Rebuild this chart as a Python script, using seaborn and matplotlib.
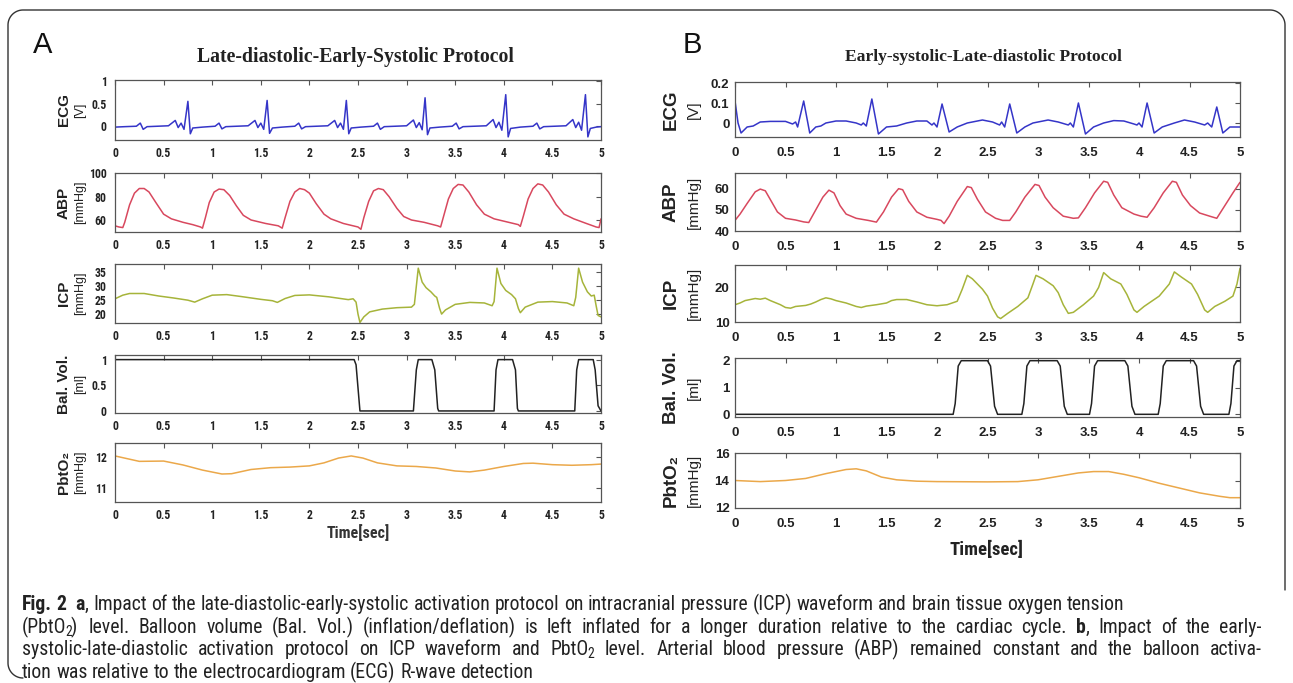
import numpy as np
import pandas as pd
import matplotlib
matplotlib.use("Agg")
import matplotlib.pyplot as plt
import seaborn as sns
from matplotlib import font_manager
from matplotlib.lines import Line2D

# ----------------------------------------------------------------- data
TIME_TICKS = [0, 0.5, 1, 1.5, 2, 2.5, 3, 3.5, 4, 4.5, 5]
TIME_TICK_LABELS = ["0", "0.5", "1", "1.5", "2", "2.5", "3", "3.5", "4", "4.5", "5"]

# Panel A : Late-diastolic-Early-Systolic Protocol
ecg_a_t = [0.00, 0.10, 0.22, 0.26, 0.29, 0.33, 0.55, 0.62, 0.65, 0.68, 0.71, 0.75, 0.775, 0.80, 0.90,
           1.03, 1.07, 1.10, 1.14, 1.37, 1.44, 1.47, 1.50, 1.53, 1.565, 1.59, 1.62, 1.72,
           1.85, 1.89, 1.92, 1.96, 2.19, 2.26, 2.29, 2.32, 2.35, 2.38, 2.405, 2.43, 2.53,
           2.66, 2.70, 2.73, 2.77, 3.00, 3.07, 3.10, 3.13, 3.16, 3.19, 3.215, 3.24, 3.34,
           3.47, 3.51, 3.54, 3.58, 3.82, 3.89, 3.92, 3.95, 3.98, 4.02, 4.045, 4.07, 4.17,
           4.30, 4.34, 4.37, 4.41, 4.64, 4.71, 4.74, 4.77, 4.80, 4.84, 4.865, 4.89, 4.95, 5.00]
ecg_a_v = [-0.03, -0.02, -0.01, 0.06, -0.08, -0.02, 0.00, 0.12, -0.04, 0.06, -0.08, 0.55, -0.18, -0.05, -0.03,
           -0.01, 0.06, -0.07, -0.02, 0.00, 0.12, -0.04, 0.06, -0.08, 0.57, -0.17, -0.05, -0.03,
           -0.01, 0.06, -0.07, -0.02, 0.00, 0.12, -0.04, 0.06, -0.08, 0.57, -0.18, -0.05, -0.03,
           -0.01, 0.06, -0.08, -0.02, 0.00, 0.13, -0.04, 0.07, -0.09, 0.63, -0.20, -0.05, -0.03,
           -0.01, 0.06, -0.07, -0.02, 0.00, 0.14, -0.04, 0.08, -0.10, 0.70, -0.25, -0.06, -0.03,
           -0.01, 0.06, -0.07, -0.02, 0.00, 0.14, -0.04, 0.08, -0.10, 0.70, -0.25, -0.06, -0.03, -0.02]

abp_a_t = [0.00, 0.04, 0.08, 0.10, 0.15, 0.20, 0.25, 0.30, 0.35, 0.42, 0.50, 0.58, 0.70, 0.80, 0.88,
           0.90, 0.93, 0.97, 1.02, 1.07, 1.12, 1.18, 1.25, 1.32, 1.40, 1.55, 1.68,
           1.72, 1.75, 1.80, 1.85, 1.90, 1.95, 2.00, 2.07, 2.15, 2.22, 2.35, 2.50,
           2.53, 2.56, 2.61, 2.66, 2.71, 2.76, 2.82, 2.90, 2.97, 3.05, 3.18, 3.32,
           3.35, 3.38, 3.43, 3.48, 3.53, 3.58, 3.64, 3.72, 3.80, 3.90, 4.05, 4.15,
           4.17, 4.20, 4.25, 4.30, 4.35, 4.40, 4.46, 4.54, 4.62, 4.72, 4.85, 4.95, 4.98, 5.00]
abp_a_v = [55, 54, 53.5, 58, 73, 83, 87, 87, 84, 75, 65, 61, 58, 56, 54,
           53, 62, 75, 84, 86.5, 86, 81, 72, 64, 60, 57, 55,
           53, 62, 76, 84, 87, 86, 83, 74, 65, 61, 57, 54,
           52, 62, 76, 85, 87, 86, 80, 70, 63, 60, 58, 55,
           54, 63, 78, 87, 90.5, 90, 84, 73, 65, 61, 58, 56,
           54.5, 63, 78, 87, 91, 90, 84, 73, 65, 61, 57, 54, 53.5, 61]

icp_a_t = [0.00, 0.08, 0.15, 0.30, 0.45, 0.60, 0.75, 0.82, 0.90, 1.00, 1.15, 1.30, 1.50, 1.62, 1.67,
           1.75, 1.85, 2.00, 2.20, 2.40, 2.45, 2.48, 2.50, 2.52, 2.56, 2.62, 2.75, 2.90, 3.05,
           3.08, 3.12, 3.16, 3.20, 3.25, 3.29, 3.31, 3.34, 3.36, 3.40, 3.50, 3.65, 3.80, 3.88,
           3.90, 3.93, 3.97, 4.02, 4.08, 4.12, 4.15, 4.17, 4.22, 4.35, 4.50, 4.65, 4.72,
           4.74, 4.77, 4.81, 4.86, 4.90, 4.93, 4.95, 4.97, 5.00]
icp_a_v = [25.5, 26.8, 27.4, 27.4, 26.5, 25.8, 25.0, 24.3, 25.5, 26.8, 27.0, 26.3, 25.3, 24.8, 24.2,
           25.6, 26.7, 26.9, 26.2, 25.2, 25.5, 24.3, 20.0, 17.0, 19.0, 20.8, 21.8, 22.3, 22.5,
           23.5, 36.5, 31.5, 29.5, 28.0, 26.5, 26.0, 22.0, 20.0, 21.5, 23.5, 24.2, 24.0, 23.0,
           24.5, 36.5, 31.0, 28.5, 27.0, 25.5, 22.0, 20.5, 22.5, 24.3, 24.5, 24.0, 23.0,
           26.0, 36.5, 31.5, 28.0, 26.5, 26.8, 23.0, 19.5, 19.0]

bal_a_t = [0.00, 2.46, 2.48, 2.52, 3.07, 3.10, 3.12, 3.26, 3.29, 3.32, 3.33,
           3.90, 3.92, 3.94, 4.09, 4.12, 4.14, 4.15, 4.73, 4.75, 4.77, 4.92, 4.94, 4.97, 5.00]
bal_a_v = [1.0, 1.0, 0.9, 0.0, 0.0, 0.8, 1.0, 1.0, 0.8, 0.05, 0.0,
           0.0, 0.8, 1.0, 1.0, 0.8, 0.05, 0.0, 0.0, 0.8, 1.0, 1.0, 0.8, 0.1, 0.0]

pbt_a_t = [0.00, 0.25, 0.50, 0.70, 0.90, 1.10, 1.20, 1.40, 1.60, 1.80, 2.00, 2.15, 2.30, 2.43, 2.55,
           2.70, 2.90, 3.10, 3.30, 3.50, 3.65, 3.80, 4.00, 4.20, 4.30, 4.50, 4.70, 4.90, 5.00]
pbt_a_v = [12.05, 11.87, 11.88, 11.75, 11.58, 11.45, 11.46, 11.60, 11.66, 11.68, 11.72, 11.82, 11.98, 12.05, 11.98,
           11.82, 11.72, 11.70, 11.65, 11.55, 11.52, 11.58, 11.70, 11.80, 11.81, 11.76, 11.74, 11.76, 11.78]

# Panel B : Early-systolic-Late-diastolic Protocol
ecg_b_t = [0.00, 0.03, 0.06, 0.12, 0.18, 0.25, 0.35, 0.50, 0.57, 0.60, 0.62, 0.68, 0.74, 0.80, 0.85,
           0.90, 1.00, 1.10, 1.20, 1.25, 1.27, 1.30, 1.355, 1.42, 1.50, 1.60, 1.70, 1.80, 1.90,
           1.95, 1.97, 2.00, 2.05, 2.12, 2.20, 2.30, 2.45, 2.55, 2.62, 2.64, 2.67, 2.72, 2.79,
           2.87, 2.95, 3.10, 3.20, 3.30, 3.32, 3.35, 3.40, 3.47, 3.55, 3.65, 3.75, 3.85, 3.95,
           3.98, 4.00, 4.03, 4.08, 4.15, 4.23, 4.35, 4.45, 4.55, 4.65, 4.68, 4.72, 4.77, 4.83,
           4.90, 5.00]
ecg_b_v = [0.11, 0.00, -0.05, -0.02, -0.015, 0.005, 0.008, 0.008, -0.005, 0.005, -0.02, 0.11, -0.05, -0.02, -0.015,
           0.00, 0.01, 0.01, 0.00, -0.01, 0.00, -0.015, 0.12, -0.055, -0.02, -0.015, 0.00, 0.01, 0.01,
           -0.01, 0.00, -0.02, 0.095, -0.045, -0.02, 0.00, 0.015, 0.005, -0.01, 0.005, -0.02, 0.095, -0.05,
           -0.02, 0.00, 0.015, 0.005, -0.01, 0.00, -0.02, 0.10, -0.055, -0.02, 0.00, 0.012, 0.01, -0.005,
           -0.01, 0.00, -0.02, 0.10, -0.05, -0.02, 0.00, 0.015, 0.005, -0.01, 0.00, -0.02, 0.08, -0.05,
           -0.02, -0.02]

abp_b_t = [0.00, 0.05, 0.12, 0.20, 0.25, 0.30, 0.36, 0.42, 0.50, 0.60, 0.68, 0.73, 0.80, 0.87, 0.93,
           0.98, 1.04, 1.10, 1.20, 1.32, 1.40, 1.47, 1.55, 1.62, 1.66, 1.72, 1.80, 1.90, 2.00,
           2.04, 2.07, 2.12, 2.20, 2.30, 2.34, 2.40, 2.48, 2.58, 2.65, 2.72, 2.78, 2.87, 2.97,
           3.01, 3.07, 3.15, 3.25, 3.35, 3.40, 3.47, 3.56, 3.65, 3.69, 3.75, 3.83, 3.95, 4.02,
           4.08, 4.15, 4.24, 4.33, 4.37, 4.43, 4.51, 4.60, 4.70, 4.77, 4.85, 4.93, 5.00]
abp_b_v = [45, 48, 53, 58.5, 59.8, 59, 54, 49, 46, 45.2, 44.3, 44.0, 50, 56, 59.3,
           58, 52, 48, 46, 45, 44.2, 49, 56, 60, 59.5, 54, 49, 46.5, 45.5,
           45, 43.5, 47, 54, 61, 60.5, 55, 49, 46, 45, 45, 49, 56, 62,
           61.5, 56, 51, 47, 46, 46.2, 51, 58, 63.5, 63, 57, 51, 48, 47,
           46.5, 51, 58, 63.5, 63, 57, 52, 48.5, 47, 46, 52, 58, 63]

icp_b_t = [0.00, 0.05, 0.10, 0.15, 0.20, 0.25, 0.30, 0.35, 0.45, 0.50, 0.55, 0.60, 0.70, 0.75, 0.80,
           0.85, 0.90, 0.95, 1.00, 1.10, 1.20, 1.25, 1.30, 1.40, 1.50, 1.55, 1.60, 1.70, 1.80,
           1.90, 2.00, 2.10, 2.15, 2.20, 2.25, 2.30, 2.35, 2.45, 2.50, 2.55, 2.60, 2.63, 2.70,
           2.80, 2.90, 2.95, 2.98, 3.05, 3.15, 3.20, 3.25, 3.30, 3.35, 3.45, 3.55, 3.60, 3.65,
           3.72, 3.82, 3.88, 3.95, 3.98, 4.05, 4.20, 4.30, 4.35, 4.42, 4.52, 4.58, 4.65, 4.68,
           4.75, 4.85, 4.93, 4.97, 5.00]
icp_b_v = [15.0, 15.5, 16.2, 16.5, 16.8, 16.6, 16.9, 16.2, 15.0, 14.2, 14.0, 14.5, 14.8, 15.2, 15.8,
           16.5, 17.0, 16.7, 16.2, 15.5, 14.5, 14.2, 14.6, 15.0, 15.5, 16.2, 16.5, 16.5, 15.8,
           15.0, 14.7, 15.0, 15.5, 16.0, 19.5, 23.5, 22.5, 19.5, 17.5, 14.0, 11.5, 11.0, 12.5,
           14.5, 17.0, 21.0, 23.5, 22.5, 20.5, 18.5, 15.0, 12.5, 12.8, 15.0, 17.5, 20.0, 24.3,
           22.5, 21.0, 18.0, 13.5, 12.8, 14.5, 17.5, 21.0, 24.5, 23.0, 21.0, 18.0, 13.5, 12.8,
           14.5, 16.0, 17.5, 21.0, 25.5]

bal_b_t = [0.00, 2.16, 2.18, 2.21, 2.24, 2.50, 2.53, 2.57, 2.60, 2.84, 2.86, 2.89, 2.92, 3.19, 3.22,
           3.26, 3.29, 3.51, 3.53, 3.56, 3.59, 3.86, 3.89, 3.93, 3.96, 4.19, 4.21, 4.24, 4.27,
           4.54, 4.57, 4.61, 4.64, 4.89, 4.91, 4.94, 4.97, 5.00]
bal_b_v = [0.0, 0.0, 0.4, 1.8, 2.0, 2.0, 1.8, 0.3, 0.0, 0.0, 0.4, 1.8, 2.0, 2.0, 1.8,
           0.3, 0.0, 0.0, 0.4, 1.8, 2.0, 2.0, 1.8, 0.3, 0.0, 0.0, 0.4, 1.8, 2.0,
           2.0, 1.8, 0.3, 0.0, 0.0, 0.4, 1.8, 2.0, 2.0]

pbt_b_t = [0.00, 0.25, 0.50, 0.70, 0.90, 1.10, 1.20, 1.30, 1.45, 1.60, 1.80, 2.00, 2.50, 2.80, 3.00,
           3.20, 3.40, 3.55, 3.70, 3.85, 4.00, 4.20, 4.40, 4.60, 4.80, 4.90, 5.00]
pbt_b_v = [14.0, 13.92, 14.0, 14.15, 14.5, 14.8, 14.85, 14.7, 14.25, 14.05, 13.95, 13.92, 13.9, 13.92, 14.05,
           14.3, 14.55, 14.65, 14.65, 14.45, 14.2, 13.8, 13.45, 13.1, 12.85, 12.75, 12.75]

SIGNALS = ["ECG", "ABP", "ICP", "Bal. Vol.", "PbtO₂"]
UNITS = ["[V]", "[mmHg]", "[mmHg]", "[ml]", "[mmHg]"]
COLORS = ["#3535c8", "#d8485e", "#a6b43a", "#222222", "#eba84a"]

YTICKS_A = [[0, 0.5, 1], [60, 80, 100], [20, 25, 30, 35], [0, 0.5, 1], [11, 12]]
YTICK_LABELS_A = [["0", "0.5", "1"], ["60", "80", "100"], ["20", "25", "30", "35"], ["0", "0.5", "1"], ["11", "12"]]
YLIM_A = [(-0.32, 1.03), (49.7, 100.3), (16.8, 38.0), (-0.04, 1.09), (10.52, 12.48)]

YTICKS_B = [[0, 0.1, 0.2], [40, 50, 60], [10, 20], [0, 1, 2], [12, 14, 16]]
YTICK_LABELS_B = [["0", "0.1", "0.2"], ["40", "50", "60"], ["10", "20"], ["0", "1", "2"], ["12", "14", "16"]]
YLIM_B = [(-0.07, 0.205), (40, 67.4), (10, 26.5), (-0.1, 2.1), (12, 16)]

TITLE_A = "Late-diastolic-Early-Systolic Protocol"
TITLE_B = "Early-systolic-Late-diastolic Protocol"
XLABEL = "Time[sec]"

CAPTION = [
    "*Fig.* *2*  *a*, Impact of the late-diastolic-early-systolic activation protocol on intracranial pressure (ICP) waveform and brain tissue oxygen tension",
    "(PbtO~2~) level. Balloon volume (Bal. Vol.) (inflation/deflation) is left inflated for a longer duration relative to the cardiac cycle. *b*, Impact of the early-",
    "systolic-late-diastolic activation protocol on ICP waveform and PbtO~2~ level. Arterial blood pressure (ABP) remained constant and the balloon activa-",
    "tion was relative to the electrocardiogram (ECG) R-wave detection",
]

# ----------------------------------------------------------------- helpers
W, H, DPI = 1293, 683, 100


def pick(*names):
    for n in names:
        try:
            font_manager.findfont(font_manager.FontProperties(family=n), fallback_to_default=False)
            return n
        except Exception:
            continue
    return "DejaVu Sans"


sns.set_style("white")
SANS = pick("Liberation Sans", "Arial", "DejaVu Sans")
NARROW = pick("Liberation Sans Narrow", "Roboto Condensed", "Open Sans Condensed", "Liberation Sans")
SERIF = pick("Liberation Serif", "DejaVu Serif")
plt.rcParams["font.family"] = [SANS, "DejaVu Sans"]

fig = plt.figure(figsize=(W / DPI, H / DPI), dpi=DPI)
fig.patch.set_facecolor("white")


def fx(x):
    return x / W


def fy(y):
    return 1 - y / H


def add_ax(left, right, top, bottom):
    return fig.add_axes([fx(left), fy(bottom), (right - left) / W, (bottom - top) / H])


series_a = [(ecg_a_t, ecg_a_v), (abp_a_t, abp_a_v), (icp_a_t, icp_a_v), (bal_a_t, bal_a_v), (pbt_a_t, pbt_a_v)]
series_b = [(ecg_b_t, ecg_b_v), (abp_b_t, abp_b_v), (icp_b_t, icp_b_v), (bal_b_t, bal_b_v), (pbt_b_t, pbt_b_v)]

rows_a = [(80, 140), (173, 232), (264, 323), (355, 413), (443, 502)]
rows_b = [(82, 137), (173, 231), (265, 322), (358, 417), (453, 508)]

panels = [
    dict(series=series_a, rows=rows_a, left=115, right=601, yt=YTICKS_A, ytl=YTICK_LABELS_A, ylim=YLIM_A,
         tfam=NARROW, tsize=8.5, tweight="bold", xpad=5, ypad=6,
         name_x=64, unit_x=80, name_size=11, unit_size=9),
    dict(series=series_b, rows=rows_b, left=735, right=1240, yt=YTICKS_B, ytl=YTICK_LABELS_B, ylim=YLIM_B,
         tfam=SANS, tsize=9.5, tweight="bold", xpad=7.5, ypad=4,
         name_x=671, unit_x=694, name_size=13.5, unit_size=11),
]

for p in panels:
    for i, ((t, v), (top, bot)) in enumerate(zip(p["series"], p["rows"])):
        ax = add_ax(p["left"], p["right"], top, bot)
        df = pd.DataFrame({"t": t, "v": v})
        sns.lineplot(data=df, x="t", y="v", ax=ax, color=COLORS[i], linewidth=1.1,
                     estimator=None, sort=False)
        ax.set_xlim(0, 5)
        ax.set_ylim(*p["ylim"][i])
        ax.set_xticks(TIME_TICKS, TIME_TICK_LABELS)
        ax.set_yticks(p["yt"][i], p["ytl"][i])
        ax.set_xlabel("")
        ax.set_ylabel("")
        ax.tick_params(axis="both", direction="in", top=True, right=True, length=3.5, width=0.8,
                       color="#555555", labelcolor="#222222", labelsize=p["tsize"])
        ax.tick_params(axis="x", pad=p["xpad"])
        ax.tick_params(axis="y", pad=p["ypad"])
        for lab in ax.get_xticklabels() + ax.get_yticklabels():
            lab.set_family([p["tfam"], "DejaVu Sans"])
            lab.set_fontweight(p["tweight"])
        for s in ax.spines.values():
            s.set_color("#555555")
            s.set_linewidth(0.9)
        cy = (top + bot) / 2
        fig.text(fx(p["name_x"]), fy(cy), SIGNALS[i], rotation=90, ha="center", va="center",
                 fontsize=p["name_size"], fontweight="bold", family=[SANS, "DejaVu Sans"], color="#222222")
        fig.text(fx(p["unit_x"]), fy(cy), UNITS[i], rotation=90, ha="center", va="center",
                 fontsize=p["unit_size"], family=[SANS, "DejaVu Sans"], color="#222222")

# panel letters, titles, x labels
fig.text(fx(33), fy(45), "A", fontsize=21, ha="left", va="center", color="#111111")
fig.text(fx(683), fy(45), "B", fontsize=21, ha="left", va="center", color="#111111")
fig.text(fx(355), fy(57), TITLE_A, fontsize=14.2, fontweight="bold", family=SERIF, ha="center", va="center",
         color="#222222")
fig.text(fx(983), fy(57), TITLE_B, fontsize=12.6, fontweight="bold", family=SERIF, ha="center", va="center",
         color="#222222")
fig.text(fx(358), fy(533), XLABEL, fontsize=11.5, family=[NARROW, "DejaVu Sans"], fontweight="bold",
         ha="center", va="center", color="#333333")
fig.text(fx(986), fy(550), XLABEL, fontsize=13.5, family=[NARROW, "DejaVu Sans"], fontweight="bold",
         ha="center", va="center", color="#222222")

# frame (decoration)
r = 15


def arc(cx, cy, a0, a1):
    a = np.radians(np.linspace(a0, a1, 20))
    return cx + r * np.cos(a), cy - r * np.sin(a)


ax_, ay_ = arc(8 + r, 10 + r, 180, 90)
xs = [8] + list(ax_)
ys = [675 - r] + list(ay_)
bx, by = arc(1285 - r, 10 + r, 90, 0)
xs += list(bx) + [1285]
ys += list(by) + [590]
cx, cy = arc(8 + r, 678 - r, 180, 270)
xs = list(cx[::-1]) + xs
ys = list(cy[::-1]) + ys
fig.add_artist(Line2D([fx(x) for x in xs], [fy(y) for y in ys], color="#333333", linewidth=1.0,
                      transform=fig.transFigure))

# caption with bold / subscript runs
renderer = fig.canvas.get_renderer()
CAP_FONT = [NARROW, "DejaVu Sans"]


def parse_word(word):
    segs, bold, sub, buf = [], False, False, ""
    for ch in word:
        if ch in "*~":
            if buf:
                segs.append((buf, bold, sub))
            buf = ""
            if ch == "*":
                bold = not bold
            else:
                sub = not sub
        else:
            buf += ch
    if buf:
        segs.append((buf, bold, sub))
    return segs


def raw_w(text, size, bold):
    t = fig.text(0, 0, text, fontsize=size, fontweight="bold" if bold else "normal", family=CAP_FONT)
    w = t.get_window_extent(renderer=renderer).width
    t.remove()
    return w


def measure(text, size, bold):
    return raw_w("|" + text + "|", size, bold) - raw_w("||", size, bold)


def line_width(line, size):
    words = [parse_word(w) for w in line.split(" ")]
    ws = []
    for segs in words:
        ws.append(sum(measure(s, size * (0.7 if sb else 1), b) for s, b, sb in segs))
    return words, ws


base = 10.0
_, ws0 = line_width(CAPTION[0], base)
space0 = measure(" ", base, False)
natural0 = sum(ws0) + space0 * (len(ws0) - 1)
cap_size = min(base * (1133 / natural0), 14.2)
space = measure(" ", cap_size, False)

baselines = [610, 633, 655, 678]
for li, line in enumerate(CAPTION):
    words, ws = line_width(line, cap_size)
    if li in (1, 2):
        gap = (1262 - 22 - sum(ws)) / (len(ws) - 1)
    else:
        gap = space
    x = 22.0
    for segs, w in zip(words, ws):
        xx = x
        for s, b, sb in segs:
            sz = cap_size * (0.7 if sb else 1)
            yy = baselines[li] + (3 if sb else 0)
            dx = -1.5 if sb else 0
            fig.text(fx(xx + dx), fy(yy), s, fontsize=sz, fontweight="bold" if b else "normal",
                     family=CAP_FONT, va="baseline", ha="left", color="#222222")
            xx += measure(s, sz, b) + (2 * dx if sb else 0)
        x += w + gap

fig.savefig("out.png", dpi=DPI, facecolor="white")
